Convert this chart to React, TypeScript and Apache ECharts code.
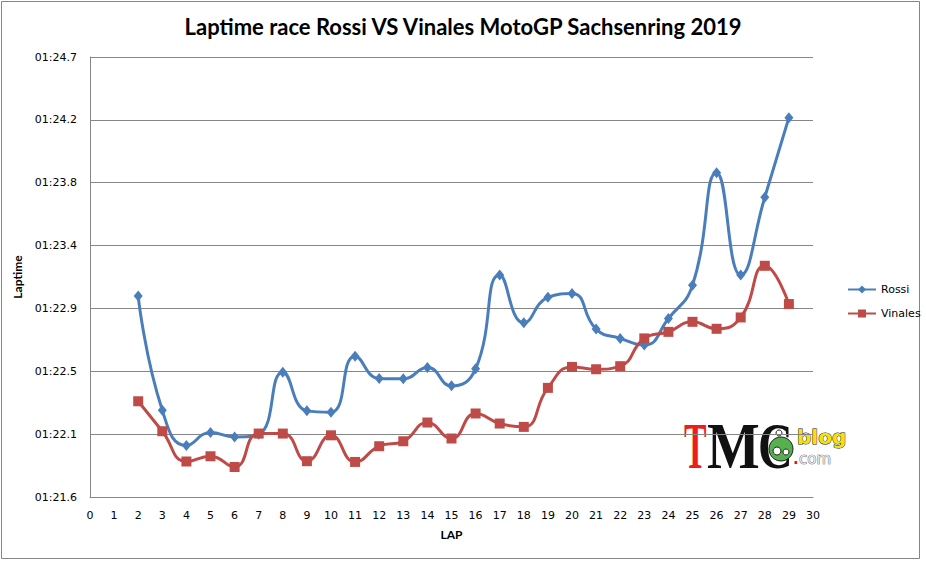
import React, { useEffect, useRef } from 'react';
import * as echarts from 'echarts';

// lap times in seconds (1:22.5 -> 82.5)
const laps = [2, 3, 4, 5, 6, 7, 8, 9, 10, 11, 12, 13, 14, 15, 16, 17, 18, 19, 20, 21, 22, 23, 24, 25, 26, 27, 28, 29];
const rossi = [
    83.029, 82.244, 82.002, 82.091, 82.061, 82.079, 82.506, 82.240, 82.231, 82.616,
    82.462, 82.460, 82.538, 82.412, 82.529, 83.173, 82.845, 83.020, 83.047, 82.802,
    82.738, 82.692, 82.875, 83.104, 83.877, 83.173, 83.708, 84.255
];
const vinales = [
    82.306, 82.100, 81.892, 81.928, 81.854, 82.084, 82.084, 81.894, 82.072, 81.889,
    81.997, 82.031, 82.160, 82.050, 82.222, 82.153, 82.130, 82.398, 82.542, 82.526,
    82.547, 82.738, 82.783, 82.852, 82.804, 82.882, 83.237, 82.974
];

// excel axis: min 0.000945 days, major unit 0.000005 days
const yMin = 81.648;
const yMax = 84.672;
const yStep = 0.432;

const chartTitle = 'Laptime race Rossi VS Vinales MotoGP Sachsenring 2019';

const fmtTime = (v: number) => {
    const m = Math.floor(v / 60);
    const s = v - m * 60;
    return String(m).padStart(2, '0') + ':' + s.toFixed(1).padStart(4, '0');
};

const axisGrey = '#868686';
const tickFont = 'DejaVu Sans';

const App: React.FC = () => {
    const chartRef = useRef<HTMLDivElement>(null);

    useEffect(() => {
        document.body.style.margin = '0';
        if (!chartRef.current) return;
        const chart = echarts.init(chartRef.current, null, { renderer: 'svg' });

        const logoFont = '"Liberation Serif"';

        chart.setOption({
            animation: false,
            backgroundColor: '#fff',
            title: {
                text: chartTitle,
                left: 'center',
                top: 10,
                textStyle: { fontFamily: 'Lato', fontWeight: 'bold', fontSize: 22, color: '#000' }
            },
            legend: {
                orient: 'vertical',
                left: 842,
                top: 279,
                itemWidth: 28,
                itemHeight: 10,
                itemGap: 13,
                textStyle: { fontFamily: tickFont, fontSize: 11, color: '#000' },
                data: ['Rossi', 'Vinales']
            },
            grid: { left: 90, top: 57, width: 723, height: 440 },
            xAxis: {
                type: 'value',
                min: 0,
                max: 30,
                interval: 1,
                name: 'LAP',
                nameLocation: 'middle',
                nameGap: 31,
                nameTextStyle: { fontFamily: 'Lato', fontWeight: 'bold', fontSize: 12, color: '#000' },
                axisLine: { lineStyle: { color: axisGrey, width: 1 } },
                axisTick: { show: false },
                splitLine: { show: false },
                axisLabel: { margin: 13, fontFamily: tickFont, fontSize: 11, color: '#000' }
            },
            yAxis: {
                type: 'value',
                min: yMin,
                max: yMax,
                interval: yStep,
                name: 'Laptime',
                nameLocation: 'middle',
                nameGap: 57,
                nameTextStyle: { fontFamily: 'Lato', fontWeight: 'bold', fontSize: 12, color: '#000' },
                axisLine: { show: true, lineStyle: { color: axisGrey, width: 1 } },
                axisTick: { show: false },
                splitLine: { lineStyle: { color: axisGrey, width: 1 } },
                axisLabel: {
                    margin: 13,
                    fontFamily: tickFont,
                    fontSize: 11,
                    color: '#000',
                    formatter: (v: number) => fmtTime(v)
                }
            },
            series: [
                {
                    name: 'Rossi',
                    type: 'line',
                    smooth: 0.5,
                    symbol: 'diamond',
                    symbolSize: [9, 11],
                    color: '#4A7EBB',
                    lineStyle: { width: 3, color: '#4A7EBB' },
                    itemStyle: { color: '#4A7EBB' },
                    data: laps.map((l, i) => [l, rossi[i]])
                },
                {
                    name: 'Vinales',
                    type: 'line',
                    smooth: 0.5,
                    symbol: 'rect',
                    symbolSize: 10,
                    color: '#BE4B48',
                    lineStyle: { width: 3, color: '#BE4B48' },
                    itemStyle: { color: '#BE4B48' },
                    data: laps.map((l, i) => [l, vinales[i]])
                }
            ],
            graphic: [
                {
                    type: 'rect',
                    silent: true,
                    shape: { x: 1.5, y: 1.5, width: 918, height: 557 },
                    style: { fill: 'none', stroke: axisGrey, lineWidth: 1 }
                },
                // TMC blog logo
                {
                    type: 'group',
                    silent: true,
                    z: 10,
                    children: [
                        {
                            type: 'text', x: 684, y: 446, scaleX: 0.52,
                            style: { text: 'T', font: `bold 65px ${logoFont}`, fill: '#ee1c1c', textVerticalAlign: 'middle', lineHeight: 46 }
                        },
                        {
                            type: 'text', x: 707, y: 446, scaleX: 0.86,
                            style: { text: 'M', font: `bold 65px ${logoFont}`, fill: '#111', textVerticalAlign: 'middle', lineHeight: 46 }
                        },
                        {
                            type: 'text', x: 758, y: 446, scaleX: 0.74,
                            style: { text: 'C', font: `bold 65px ${logoFont}`, fill: '#111', textVerticalAlign: 'middle', lineHeight: 46 }
                        },
                        {
                            type: 'circle',
                            shape: { cx: 781, cy: 449, r: 12 },
                            style: { fill: '#57b04f', stroke: '#222', lineWidth: 1 }
                        },
                        {
                            type: 'circle',
                            shape: { cx: 777, cy: 451, r: 4 },
                            style: { fill: '#fff', stroke: '#222', lineWidth: 1 }
                        },
                        {
                            type: 'circle',
                            shape: { cx: 786, cy: 452, r: 3 },
                            style: { fill: '#fff', stroke: '#222', lineWidth: 1 }
                        },
                        {
                            type: 'circle',
                            shape: { cx: 779, cy: 433, r: 3 },
                            style: { fill: '#fff', stroke: '#222', lineWidth: 1 }
                        },
                        {
                            type: 'text', x: 797, y: 437,
                            style: { text: 'blog', font: 'bold 20px "DejaVu Sans"', fill: '#f3e30c', stroke: '#222', lineWidth: 1, textVerticalAlign: 'middle', lineHeight: 16 }
                        },
                        {
                            type: 'text', x: 793, y: 459,
                            style: { text: '.', font: 'bold 15px "DejaVu Sans"', fill: '#e01b1b', textVerticalAlign: 'middle', lineHeight: 10 }
                        },
                        {
                            type: 'text', x: 799, y: 459,
                            style: { text: 'com', font: '15px "DejaVu Sans"', fill: '#e4e4e4', stroke: '#444', lineWidth: 0.7, textVerticalAlign: 'middle', lineHeight: 10 }
                        }
                    ]
                }
            ]
        });

        const handleResize = () => chart.resize();
        window.addEventListener('resize', handleResize);

        return () => {
            window.removeEventListener('resize', handleResize);
            chart.dispose();
        };
    }, []);

    return <div ref={chartRef} style={{ width: 926, height: 561 }} />;
};

export default App;
